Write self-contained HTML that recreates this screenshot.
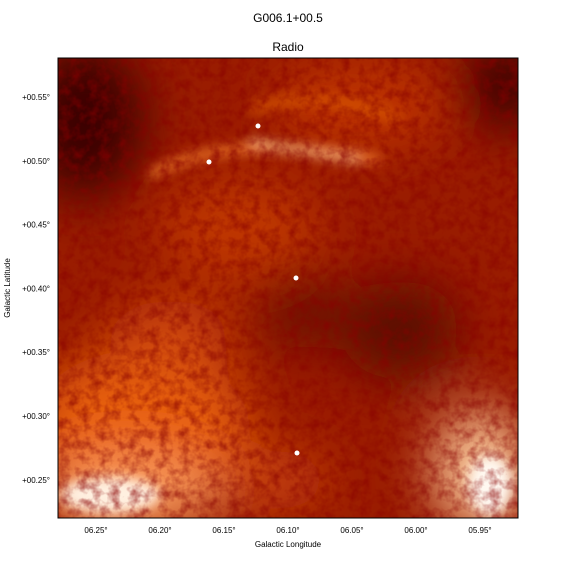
<!DOCTYPE html>
<html><head><meta charset="utf-8"><style>
body{margin:0;background:#fff;width:576px;height:576px;overflow:hidden;font-family:"Liberation Sans",sans-serif}
svg{position:absolute;left:0;top:0}
</style></head><body>
<svg id="chart" width="576" height="576">
<defs>
<filter id="b1" filterUnits="userSpaceOnUse" x="-100" y="-100" width="800" height="800"><feGaussianBlur stdDeviation="26"/></filter>
<filter id="b2" filterUnits="userSpaceOnUse" x="-100" y="-100" width="800" height="800"><feGaussianBlur stdDeviation="6"/></filter>
<filter id="noise" filterUnits="userSpaceOnUse" x="58" y="58" width="460" height="460"><feTurbulence type="fractalNoise" baseFrequency="0.1" numOctaves="3" seed="4"/><feColorMatrix type="matrix" values="0 0 0 0 0.25  0 0 0 0 0.0  0 0 0 0 0  0 0 0 2.2 -0.85"/></filter>
<clipPath id="clip"><rect x="58" y="58" width="460" height="460"/></clipPath>
</defs>
<text x="288" y="22" text-anchor="middle" font-size="12">G006.1+00.5</text>
<text x="288" y="51" text-anchor="middle" font-size="12">Radio</text>
<g clip-path="url(#clip)">
<rect x="58" y="58" width="460" height="460" fill="#9a1c00"/>
<g filter="url(#b1)">
<ellipse cx="85" cy="120" rx="60" ry="80" fill="#3a0500"/>
<ellipse cx="505" cy="85" rx="45" ry="45" fill="#3a0500"/>
<ellipse cx="400" cy="330" rx="60" ry="50" fill="#5a0800"/>
<ellipse cx="300" cy="310" rx="40" ry="40" fill="#6a0c00"/>
<ellipse cx="140" cy="430" rx="110" ry="80" fill="#e8600f"/>
<ellipse cx="170" cy="340" rx="60" ry="40" fill="#d04a08"/>
<ellipse cx="240" cy="230" rx="80" ry="50" fill="#c03805"/>
<ellipse cx="360" cy="105" rx="90" ry="40" fill="#c03605"/>
<ellipse cx="130" cy="495" rx="90" ry="35" fill="#fba060"/>
<ellipse cx="480" cy="470" rx="45" ry="60" fill="#ffd0a0"/>
<ellipse cx="270" cy="480" rx="60" ry="30" fill="#c8420a"/>
</g>
<g filter="url(#b2)">
<ellipse cx="110" cy="495" rx="50" ry="18" fill="#fff0e0"/>
<ellipse cx="490" cy="485" rx="22" ry="30" fill="#fff8f0"/>
<path d="M150 175 Q230 130 380 160" stroke="#ff8a30" stroke-width="7" fill="none"/>
<path d="M250 142 Q300 150 360 160" stroke="#ffd8a0" stroke-width="5" fill="none"/>
<path d="M250 110 Q320 85 400 120" stroke="#e06010" stroke-width="7" fill="none"/>
</g>
<rect x="58" y="58" width="460" height="460" filter="url(#noise)" fill="#000" opacity="0.6"/>
<circle cx="209" cy="162" r="2.5" fill="#fff"/><circle cx="258" cy="126" r="2.5" fill="#fff"/>
<circle cx="296" cy="278" r="2.5" fill="#fff"/><circle cx="297" cy="453" r="2.5" fill="#fff"/>
</g>
<rect x="58" y="58" width="460" height="460" fill="none" stroke="#000" stroke-width="1"/>
<g id="xt"></g>
<g id="yt"></g>
<text x="288" y="547" text-anchor="middle" font-size="8">Galactic Longitude</text>
<text transform="translate(10,288) rotate(-90)" text-anchor="middle" font-size="8">Galactic Latitude</text>
</svg>
<script>
const xTicks=[6.25,6.20,6.15,6.10,6.05,6.00,5.95];
const xLabels=["06.25°","06.20°","06.15°","06.10°","06.05°","06.00°","05.95°"];
const yTicks=[0.55,0.50,0.45,0.40,0.35,0.30,0.25];
const yLabels=["+00.55°","+00.50°","+00.45°","+00.40°","+00.35°","+00.30°","+00.25°"];
const xs=v=>96+(6.25-v)/0.05*64;
const ys=v=>97+(0.55-v)/0.05*63.8;
const ns="http://www.w3.org/2000/svg";
xTicks.forEach((v,i)=>{const t=document.createElementNS(ns,"text");
t.setAttribute("x",xs(v));t.setAttribute("y",533);t.setAttribute("text-anchor","middle");t.setAttribute("font-size","8");
t.textContent=xLabels[i];


document.getElementById("xt").appendChild(t);});
yTicks.forEach((v,i)=>{const t=document.createElementNS(ns,"text");
t.setAttribute("x",50);t.setAttribute("y",ys(v)+3);t.setAttribute("text-anchor","end");t.setAttribute("font-size","8");
t.textContent=yLabels[i];


document.getElementById("yt").appendChild(t);});
</script>
</body></html>
